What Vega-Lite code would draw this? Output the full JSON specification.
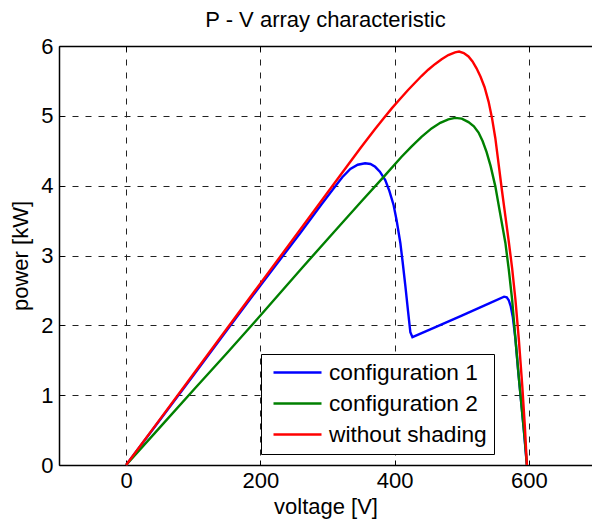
{
  "$schema": "https://vega.github.io/schema/vega-lite/v6.json",
  "width": 533,
  "height": 419,
  "autosize": "none",
  "padding": {"left": 59, "top": 46, "right": 0, "bottom": 58},
  "config": {
    "view": {"stroke": null},
    "font": "Liberation Sans",
    "axis": {
      "labelFont": "Liberation Sans",
      "titleFont": "Liberation Sans",
      "labelFontSize": 22,
      "titleFontSize": 22,
      "titleFontWeight": "normal",
      "labelColor": "black",
      "titleColor": "black",
      "domainColor": "black",
      "domainWidth": 1.5,
      "tickColor": "black",
      "tickWidth": 1,
      "gridColor": "#222222",
      "gridDash": [6, 7],
      "gridWidth": 1,
      "gridOpacity": 1
    }
  },
  "title": {
    "text": "P - V array characteristic",
    "fontSize": 22,
    "font": "Liberation Sans",
    "fontWeight": "normal",
    "color": "black",
    "offset": 3,
    "anchor": "middle"
  },
  "data": {
    "values": [
      {"series": "configuration 1", "voltage": 0, "power": 0},
      {"series": "configuration 1", "voltage": 50, "power": 0.64},
      {"series": "configuration 1", "voltage": 100, "power": 1.28},
      {"series": "configuration 1", "voltage": 150, "power": 1.93},
      {"series": "configuration 1", "voltage": 200, "power": 2.57},
      {"series": "configuration 1", "voltage": 260, "power": 3.33},
      {"series": "configuration 1", "voltage": 290, "power": 3.72},
      {"series": "configuration 1", "voltage": 309, "power": 3.96},
      {"series": "configuration 1", "voltage": 322, "power": 4.12},
      {"series": "configuration 1", "voltage": 334, "power": 4.24},
      {"series": "configuration 1", "voltage": 345, "power": 4.3},
      {"series": "configuration 1", "voltage": 356, "power": 4.32},
      {"series": "configuration 1", "voltage": 364, "power": 4.31},
      {"series": "configuration 1", "voltage": 371, "power": 4.27},
      {"series": "configuration 1", "voltage": 378, "power": 4.2},
      {"series": "configuration 1", "voltage": 386, "power": 4.08},
      {"series": "configuration 1", "voltage": 392, "power": 3.93},
      {"series": "configuration 1", "voltage": 398.5, "power": 3.72},
      {"series": "configuration 1", "voltage": 403, "power": 3.5},
      {"series": "configuration 1", "voltage": 408.5, "power": 3.18},
      {"series": "configuration 1", "voltage": 412, "power": 2.9},
      {"series": "configuration 1", "voltage": 416, "power": 2.56},
      {"series": "configuration 1", "voltage": 420, "power": 2.2},
      {"series": "configuration 1", "voltage": 423.4, "power": 1.9},
      {"series": "configuration 1", "voltage": 426.5, "power": 1.83},
      {"series": "configuration 1", "voltage": 460, "power": 1.97},
      {"series": "configuration 1", "voltage": 500, "power": 2.14},
      {"series": "configuration 1", "voltage": 540, "power": 2.31},
      {"series": "configuration 1", "voltage": 563, "power": 2.41},
      {"series": "configuration 1", "voltage": 567, "power": 2.4},
      {"series": "configuration 1", "voltage": 570, "power": 2.36},
      {"series": "configuration 1", "voltage": 573, "power": 2.27},
      {"series": "configuration 1", "voltage": 576, "power": 2.12},
      {"series": "configuration 1", "voltage": 580, "power": 1.8},
      {"series": "configuration 1", "voltage": 584, "power": 1.35},
      {"series": "configuration 1", "voltage": 588, "power": 0.95},
      {"series": "configuration 1", "voltage": 592, "power": 0.55},
      {"series": "configuration 1", "voltage": 597, "power": 0},
      {"series": "configuration 2", "voltage": 0, "power": 0},
      {"series": "configuration 2", "voltage": 50, "power": 0.535},
      {"series": "configuration 2", "voltage": 100, "power": 1.07},
      {"series": "configuration 2", "voltage": 150, "power": 1.6},
      {"series": "configuration 2", "voltage": 200, "power": 2.14},
      {"series": "configuration 2", "voltage": 260, "power": 2.8},
      {"series": "configuration 2", "voltage": 309, "power": 3.33},
      {"series": "configuration 2", "voltage": 350, "power": 3.77},
      {"series": "configuration 2", "voltage": 384, "power": 4.13},
      {"series": "configuration 2", "voltage": 410, "power": 4.41},
      {"series": "configuration 2", "voltage": 425, "power": 4.56},
      {"series": "configuration 2", "voltage": 440, "power": 4.7},
      {"series": "configuration 2", "voltage": 455, "power": 4.82},
      {"series": "configuration 2", "voltage": 468, "power": 4.9},
      {"series": "configuration 2", "voltage": 480, "power": 4.95},
      {"series": "configuration 2", "voltage": 490, "power": 4.97},
      {"series": "configuration 2", "voltage": 500, "power": 4.96},
      {"series": "configuration 2", "voltage": 510, "power": 4.91},
      {"series": "configuration 2", "voltage": 518, "power": 4.85},
      {"series": "configuration 2", "voltage": 525, "power": 4.76},
      {"series": "configuration 2", "voltage": 531, "power": 4.64},
      {"series": "configuration 2", "voltage": 537, "power": 4.48},
      {"series": "configuration 2", "voltage": 543, "power": 4.28},
      {"series": "configuration 2", "voltage": 550, "power": 3.99},
      {"series": "configuration 2", "voltage": 557, "power": 3.61},
      {"series": "configuration 2", "voltage": 565, "power": 3.18},
      {"series": "configuration 2", "voltage": 570, "power": 2.8},
      {"series": "configuration 2", "voltage": 575, "power": 2.37},
      {"series": "configuration 2", "voltage": 580, "power": 1.8},
      {"series": "configuration 2", "voltage": 585, "power": 1.25},
      {"series": "configuration 2", "voltage": 590, "power": 0.75},
      {"series": "configuration 2", "voltage": 594, "power": 0.35},
      {"series": "configuration 2", "voltage": 597, "power": 0},
      {"series": "without shading", "voltage": 0, "power": 0},
      {"series": "without shading", "voltage": 50, "power": 0.65},
      {"series": "without shading", "voltage": 100, "power": 1.3},
      {"series": "without shading", "voltage": 150, "power": 1.95},
      {"series": "without shading", "voltage": 200, "power": 2.6},
      {"series": "without shading", "voltage": 260, "power": 3.38},
      {"series": "without shading", "voltage": 310, "power": 4.03},
      {"series": "without shading", "voltage": 350, "power": 4.55},
      {"series": "without shading", "voltage": 370, "power": 4.8},
      {"series": "without shading", "voltage": 384, "power": 4.97},
      {"series": "without shading", "voltage": 396, "power": 5.11},
      {"series": "without shading", "voltage": 408, "power": 5.24},
      {"series": "without shading", "voltage": 420, "power": 5.37},
      {"series": "without shading", "voltage": 430, "power": 5.47},
      {"series": "without shading", "voltage": 440, "power": 5.57},
      {"series": "without shading", "voltage": 450, "power": 5.66},
      {"series": "without shading", "voltage": 460, "power": 5.74},
      {"series": "without shading", "voltage": 470, "power": 5.81},
      {"series": "without shading", "voltage": 480, "power": 5.87},
      {"series": "without shading", "voltage": 490, "power": 5.91},
      {"series": "without shading", "voltage": 496, "power": 5.92},
      {"series": "without shading", "voltage": 503, "power": 5.9},
      {"series": "without shading", "voltage": 510, "power": 5.85},
      {"series": "without shading", "voltage": 516, "power": 5.78},
      {"series": "without shading", "voltage": 522, "power": 5.68},
      {"series": "without shading", "voltage": 528, "power": 5.56},
      {"series": "without shading", "voltage": 534, "power": 5.41},
      {"series": "without shading", "voltage": 540, "power": 5.2},
      {"series": "without shading", "voltage": 545, "power": 4.97},
      {"series": "without shading", "voltage": 550, "power": 4.68},
      {"series": "without shading", "voltage": 555, "power": 4.3},
      {"series": "without shading", "voltage": 560, "power": 3.92},
      {"series": "without shading", "voltage": 565, "power": 3.56},
      {"series": "without shading", "voltage": 570, "power": 3.2},
      {"series": "without shading", "voltage": 575, "power": 2.82},
      {"series": "without shading", "voltage": 580, "power": 2.36},
      {"series": "without shading", "voltage": 585, "power": 1.8},
      {"series": "without shading", "voltage": 590, "power": 1.15},
      {"series": "without shading", "voltage": 594, "power": 0.55},
      {"series": "without shading", "voltage": 597, "power": 0}
    ]
  },
  "layer": [
    {
      "mark": {"type": "line", "strokeWidth": 2.4},
      "encoding": {
        "x": {
          "field": "voltage",
          "type": "quantitative",
          "scale": {"domain": [-100, 694], "nice": false, "zero": false},
          "axis": {
            "orient": "bottom",
            "values": [0, 200, 400, 600],
            "title": "voltage [V]",
            "grid": true,
            "ticks": true,
            "tickSize": -5,
            "labelPadding": 10,
            "titlePadding": 5
          }
        },
        "y": {
          "field": "power",
          "type": "quantitative",
          "scale": {"domain": [0, 6], "nice": false},
          "axis": {
            "values": [0, 1, 2, 3, 4, 5, 6],
            "title": "power [kW]",
            "grid": true,
            "ticks": true,
            "tickSize": -5,
            "labelPadding": 11,
            "titlePadding": 8
          }
        },
        "color": {
          "field": "series",
          "type": "nominal",
          "scale": {
            "domain": ["configuration 1", "configuration 2", "without shading"],
            "range": ["#0000ff", "#008000", "#ff0000"]
          },
          "legend": {
            "orient": "none",
            "legendX": 202,
            "legendY": 308,
            "title": null,
            "symbolType": "M-0.6,0H4.2",
            "symbolSize": 400,
            "symbolStrokeWidth": 2.5,
            "labelFontSize": 22.7,
            "labelFont": "Liberation Sans",
            "labelColor": "black",
            "labelOffset": 38,
            "labelLimit": 400,
            "strokeColor": "black",
            "fillColor": "white",
            "padding": 7,
            "rowPadding": 7,
            "cornerRadius": 0
          }
        }
      }
    },
    {
      "mark": {"type": "rule", "opacity": 0},
      "encoding": {
        "x": {
          "datum": 0,
          "type": "quantitative",
          "axis": {
            "orient": "top",
            "values": [0, 200, 400, 600],
            "title": null,
            "labels": false,
            "grid": false,
            "ticks": true,
            "tickSize": -5
          }
        }
      }
    }
  ],
  "resolve": {"axis": {"x": "independent"}}
}
